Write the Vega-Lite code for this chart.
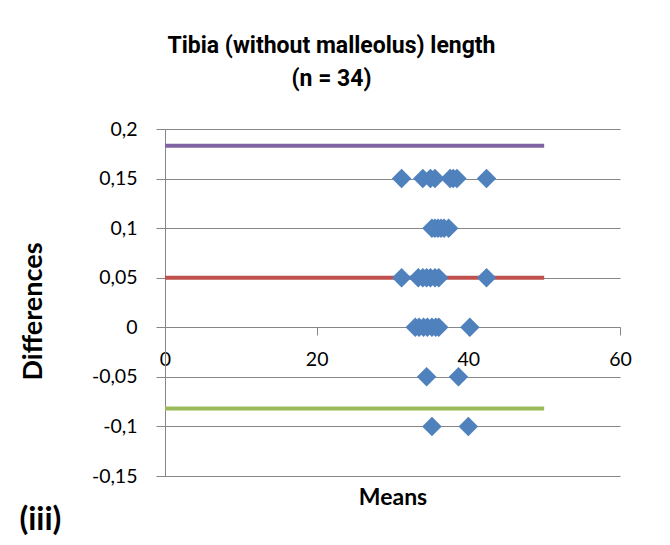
{
  "$schema": "https://vega.github.io/schema/vega-lite/v6.json",
  "autosize": "none",
  "width": 455,
  "height": 347,
  "padding": {"left": 165, "top": 129, "right": 50, "bottom": 69},
  "background": "white",
  "config": {
    "view": {"stroke": null},
    "locale": {"number": {"decimal": ",", "thousands": ".", "grouping": [3], "currency": ["", ""], "minus": "-"}},
    "axis": {"labelFont": "Lato", "labelFontSize": 19.5, "labelColor": "#000000", "titleFont": "Lato", "titleFontSize": 23, "titleFontWeight": "bold", "titleColor": "#000000", "domainColor": "#868686", "tickColor": "#868686", "gridColor": "#868686"}
  },
  "title": {
    "text": ["Tibia (without malleolus) length", "(n = 34)"],
    "font": "Roboto",
    "fontSize": 23,
    "fontWeight": "bold",
    "color": "#000000",
    "anchor": "middle",
    "lineHeight": 33,
    "dx": -61,
    "offset": 28
  },
  "datasets": {
    "points": [
      {"mean": 31.2, "diff": 0.15}, {"mean": 34.0, "diff": 0.15}, {"mean": 35.0, "diff": 0.15}, {"mean": 35.6, "diff": 0.15},
      {"mean": 37.6, "diff": 0.15}, {"mean": 38.0, "diff": 0.15}, {"mean": 38.5, "diff": 0.15}, {"mean": 42.4, "diff": 0.15},
      {"mean": 35.2, "diff": 0.1}, {"mean": 35.6, "diff": 0.1}, {"mean": 36.0, "diff": 0.1}, {"mean": 36.4, "diff": 0.1},
      {"mean": 36.8, "diff": 0.1}, {"mean": 37.4, "diff": 0.1},
      {"mean": 31.2, "diff": 0.05}, {"mean": 33.4, "diff": 0.05}, {"mean": 34.0, "diff": 0.05}, {"mean": 34.5, "diff": 0.05},
      {"mean": 35.0, "diff": 0.05}, {"mean": 35.6, "diff": 0.05}, {"mean": 36.1, "diff": 0.05}, {"mean": 42.4, "diff": 0.05},
      {"mean": 33.0, "diff": 0}, {"mean": 33.5, "diff": 0}, {"mean": 34.1, "diff": 0}, {"mean": 34.6, "diff": 0},
      {"mean": 35.2, "diff": 0}, {"mean": 35.7, "diff": 0}, {"mean": 36.1, "diff": 0}, {"mean": 40.2, "diff": 0},
      {"mean": 34.5, "diff": -0.05}, {"mean": 38.7, "diff": -0.05},
      {"mean": 35.2, "diff": -0.1}, {"mean": 40.0, "diff": -0.1}
    ],
    "limits": [
      {"line": "upper", "y": 0.183, "x0": 0, "x1": 50},
      {"line": "mean", "y": 0.05, "x0": 0, "x1": 50},
      {"line": "lower", "y": -0.082, "x0": 0, "x1": 50}
    ],
    "label": [{"text": "(iii)", "x": -19.2, "y": -0.1943}]
  },
  "layer": [
    {
      "data": {"name": "limits"},
      "mark": {"type": "rule", "strokeWidth": 4},
      "encoding": {
        "x": {
          "field": "x0", "type": "quantitative",
          "scale": {"domain": [0, 60], "nice": false},
          "axis": {"values": [0, 20, 40, 60], "title": "Means", "offset": -149, "grid": false, "tickSize": 8, "labelPadding": 15, "labelFlush": false, "titleY": 170, "titleBaseline": "middle", "titlePadding": 0}
        },
        "x2": {"field": "x1"},
        "y": {
          "field": "y", "type": "quantitative",
          "scale": {"domain": [-0.15, 0.2], "nice": false, "zero": false},
          "axis": {"values": [-0.15, -0.1, -0.05, 0, 0.05, 0.1, 0.15, 0.2], "format": ".2~f", "title": "Differences", "grid": true, "tickSize": 9, "labelPadding": 19, "titleX": -132, "titleY": 182, "titleAngle": -90, "titleAlign": "center", "titleBaseline": "middle", "titleFontSize": 27}
        },
        "color": {
          "field": "line", "type": "nominal",
          "scale": {"domain": ["upper", "mean", "lower"], "range": ["#8064A2", "#C0504D", "#9BBB59"]},
          "legend": null
        }
      }
    },
    {
      "data": {"name": "points"},
      "mark": {"type": "point", "shape": "diamond", "filled": true, "size": 380, "color": "#4F81BD", "opacity": 1},
      "encoding": {
        "x": {"field": "mean", "type": "quantitative"},
        "y": {"field": "diff", "type": "quantitative"}
      }
    },
    {
      "data": {"name": "label"},
      "mark": {"type": "text", "align": "left", "baseline": "middle", "font": "Lato", "fontSize": 32, "fontWeight": "bold", "color": "#000000", "clip": false},
      "encoding": {
        "x": {"field": "x", "type": "quantitative"},
        "y": {"field": "y", "type": "quantitative"},
        "text": {"field": "text"}
      }
    }
  ]
}
